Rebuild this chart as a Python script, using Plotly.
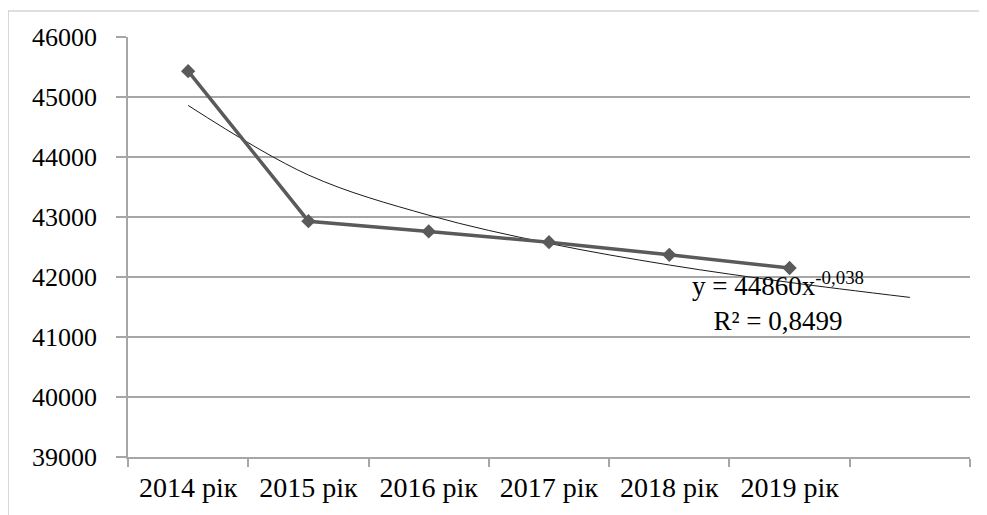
import plotly.graph_objects as go

# Data
years = ["2014 рік", "2015 рік", "2016 рік", "2017 рік", "2018 рік", "2019 рік"]
values = [45430, 42930, 42760, 42580, 42370, 42150]

# Power trendline as drawn in the chart (read at each category slot, incl. one forecast slot)
trend_values = [44860, 43700, 43030, 42560, 42200, 41910, 41660]

y_ticks = [39000, 40000, 41000, 42000, 43000, 44000, 45000, 46000]
trend_label = "y = 44860x<sup>-0,038</sup><br>R² = 0,8499"

x_pos = list(range(1, len(years) + 1))
trend_x = list(range(1, len(trend_values) + 1))
n_slots = len(trend_values)

FONT = "Liberation Serif, Times New Roman, serif"
GRID = "#a6a6a6"

fig = go.Figure()

fig.add_trace(go.Scatter(
    x=trend_x, y=trend_values, mode="lines",
    line=dict(color="#1a1a1a", width=1, shape="spline", smoothing=1.0),
    hoverinfo="skip", showlegend=False,
))

fig.add_trace(go.Scatter(
    x=x_pos, y=values, mode="lines+markers",
    line=dict(color="#5a5a5a", width=3.5),
    marker=dict(symbol="diamond", size=11, color="#5a5a5a"),
    showlegend=False,
))

fig.add_annotation(
    x=5.9, y=41600, xref="x", yref="y",
    text=trend_label, showarrow=False,
    xanchor="center", yanchor="middle", align="center",
    font=dict(family=FONT, size=27, color="#000000"),
)

# the page body adds an 8px offset, so the figure is sized for the remaining area
OFF = 8
w, h = 987 - OFF, 515 - OFF
l, r, t, b = 128 - OFF, 17, 37 - OFF, 58
pw, ph = w - l - r, h - t - b

# outer chart frame
fig.add_shape(
    type="rect", xref="paper", yref="paper",
    x0=(8 - OFF - l) / pw, x1=1 + (r + 10) / pw,
    y0=-(b + 10) / ph, y1=1 + (t - (11 - OFF)) / ph,
    line=dict(color="#bfbfbf", width=1.2), fillcolor="rgba(0,0,0,0)", layer="below",
)

fig.update_layout(
    width=w, height=h,
    margin=dict(l=l, r=r, t=t, b=b),
    paper_bgcolor="white", plot_bgcolor="white",
    font=dict(family=FONT, color="#000000"),
    xaxis=dict(
        range=[0.5, n_slots + 0.5],
        tickvals=x_pos, ticktext=years,
        ticks="", showgrid=False, zeroline=False,
        showline=True, linecolor=GRID, linewidth=1.5,
        tickfont=dict(family=FONT, size=28, color="#000000"),
        ticklabelstandoff=5,
        minor=dict(
            tickvals=[i + 0.5 for i in range(0, n_slots + 1)],
            ticks="outside", ticklen=8, tickcolor=GRID, tickwidth=1.5,
            showgrid=False,
        ),
    ),
    yaxis=dict(
        range=[39000, 46000],
        tickvals=y_ticks, ticktext=[str(v) for v in y_ticks],
        ticks="outside", ticklen=10, tickcolor=GRID, tickwidth=1.5,
        showgrid=True, gridcolor=GRID, gridwidth=1.5,
        zeroline=False,
        showline=True, linecolor=GRID, linewidth=1.5,
        tickfont=dict(family=FONT, size=26, color="#000000"),
        ticklabelstandoff=14,
    ),
)

fig.write_html("out.html")
